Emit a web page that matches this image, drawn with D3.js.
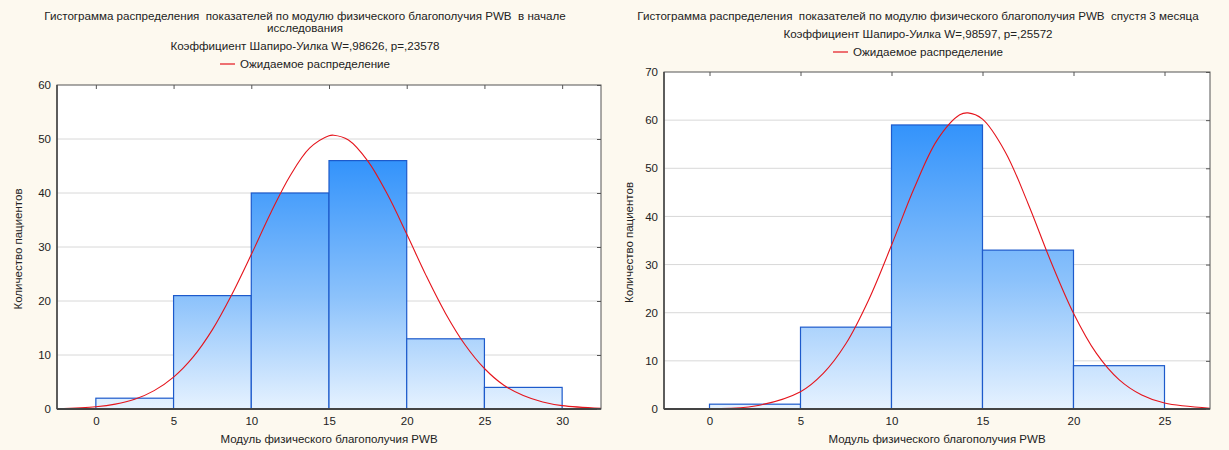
<!DOCTYPE html>
<html>
<head>
<meta charset="utf-8">
<script src="https://cdn.jsdelivr.net/npm/d3@7"></script>
<style>
  body { margin: 0; background: #fdf9ef; }
  text { font-family: "Liberation Sans", Arial, sans-serif; fill: #222; white-space: pre; }
</style>
</head>
<body>
<div id="chart-area"></div>
<script>
// --- data ---

// bins (left edges, width 5)
const binsBefore = [0, 5, 10, 15, 20, 25];
const countsBefore = [2, 21, 40, 46, 13, 4];
const binsAfter = [0, 5, 10, 15, 20];
const countsAfter = [1, 17, 59, 33, 9];

// expected distribution curve
const curveXBefore = [-2.5, 0, 1.25, 2.5, 3.75, 5, 6.25, 7.5, 8.75, 10, 11.25, 12.5, 13.75, 15, 15.3, 16.25, 17.5, 18.75, 20, 21.25, 22.5, 23.75, 25, 26.25, 27.5, 28.75, 30, 32.5];
const curveYBefore = [0.08, 0.43, 0.9, 1.8, 3.4, 5.9, 9.6, 14.7, 21.2, 28.6, 36.3, 43.2, 48.3, 50.6, 50.7, 49.8, 45.9, 39.8, 32.4, 24.7, 17.7, 11.9, 7.5, 4.4, 2.5, 1.3, 0.63, 0.12];
const curveXAfter = [-2.5, 0, 2.5, 5, 6.25, 7.5, 8.75, 10, 11.25, 12.5, 13.75, 14.2, 15, 16.25, 17.5, 18.75, 20, 21.25, 22.5, 23.75, 25, 27.5];
const curveYAfter = [0.01, 0.07, 0.62, 3.6, 7.4, 13.6, 22.7, 34.0, 45.9, 55.8, 61.1, 61.5, 60.2, 53.4, 42.7, 30.7, 19.9, 11.6, 6.1, 2.9, 1.23, 0.16];

// ticks
const xTicksBefore = [0, 5, 10, 15, 20, 25, 30];
const yTicksBefore = [0, 10, 20, 30, 40, 50, 60];
const xTicksAfter = [0, 5, 10, 15, 20, 25];
const yTicksAfter = [0, 10, 20, 30, 40, 50, 60, 70];

// texts
const titleBefore = ["Гистограмма распределения  показателей по модулю физического благополучия PWB  в начале", "исследования"];
const titleAfter = ["Гистограмма распределения  показателей по модулю физического благополучия PWB  спустя 3 месяца"];
const swBefore = "Коэффициент Шапиро-Уилка W=,98626, p=,23578";
const swAfter = "Коэффициент Шапиро-Уилка W=,98597, p=,25572";
const legendLabel = "Ожидаемое распределение";
const xTitle = "Модуль физического благополучия PWB";
const yTitle = "Количество пациентов";

const binWidth = 5;
const headFont = 11.6;

// canvas
const canvas = { width: 1229, height: 450 };
const svg = d3.select("#chart-area").append("svg").attr("width", canvas.width).attr("height", canvas.height);
svg.append("rect").attr("width", canvas.width).attr("height", canvas.height).attr("fill", "#fdf9ef");

const defs = svg.append("defs");

function drawPanel(p) {
  const x = d3.scaleLinear().domain(p.xDomain).range([p.left, p.right]);
  const y = d3.scaleLinear().domain(p.yDomain).range([p.bottom, p.top]);
  const g = svg.append("g");

  // plot background
  g.append("rect").attr("x", p.left).attr("y", p.top).attr("width", p.right - p.left).attr("height", p.bottom - p.top)
    .attr("fill", "#fff");

  // grid
  g.selectAll(".grid").data(p.yTicks.filter(d => d > 0 && d < p.yDomain[1])).enter().append("line")
    .attr("x1", p.left).attr("x2", p.right).attr("y1", d => y(d)).attr("y2", d => y(d))
    .attr("stroke", "#d8d8d8").attr("stroke-width", 1);

  // gradient for bars
  const gid = "grad-" + p.id;
  const grad = defs.append("linearGradient").attr("id", gid).attr("gradientUnits", "userSpaceOnUse")
    .attr("x1", 0).attr("x2", 0).attr("y1", y(d3.max(p.counts))).attr("y2", y(0));
  grad.append("stop").attr("offset", "0%").attr("stop-color", "#3393fb");
  grad.append("stop").attr("offset", "55%").attr("stop-color", "#8cc2fb");
  grad.append("stop").attr("offset", "100%").attr("stop-color", "#e6f2ff");

  // bars
  g.selectAll(".bar").data(p.bins).enter().append("rect").attr("class", "bar")
    .attr("x", d => x(d))
    .attr("y", (d, i) => y(p.counts[i]))
    .attr("width", d => x(d + binWidth) - x(d))
    .attr("height", (d, i) => y(0) - y(p.counts[i]))
    .attr("fill", `url(#${gid})`)
    .attr("stroke", "#1d5acb").attr("stroke-width", 1.2);

  // expected curve
  const clipId = "clip-" + p.id;
  defs.append("clipPath").attr("id", clipId).append("rect")
    .attr("x", p.left).attr("y", p.top).attr("width", p.right - p.left).attr("height", p.bottom - p.top);
  const line = d3.line().x(d => x(d[0])).y(d => y(d[1])).curve(d3.curveCatmullRom);
  g.append("path").datum(d3.zip(p.curveX, p.curveY)).attr("d", line)
    .attr("fill", "none").attr("stroke", "#e5141c").attr("stroke-width", 1.1)
    .attr("clip-path", `url(#${clipId})`);

  // frame
  g.append("rect").attr("x", p.left).attr("y", p.top).attr("width", p.right - p.left).attr("height", p.bottom - p.top)
    .attr("fill", "none").attr("stroke", "#555").attr("stroke-width", 1);
  g.append("line").attr("x1", p.left).attr("x2", p.right).attr("y1", p.bottom).attr("y2", p.bottom)
    .attr("stroke", "#444").attr("stroke-width", 2);
  g.append("line").attr("x1", p.left).attr("x2", p.left).attr("y1", p.top).attr("y2", p.bottom)
    .attr("stroke", "#444").attr("stroke-width", 1.5);

  // axes
  const xAxisCall = d3.axisBottom(x).tickValues(p.xTicks).tickSize(0).tickPadding(8);
  const xAxis = g.append("g").attr("transform", `translate(0,${p.bottom})`).call(xAxisCall);
  const yAxisCall = d3.axisLeft(y).tickValues(p.yTicks).tickSize(0).tickPadding(6);
  const yAxis = g.append("g").attr("transform", `translate(${p.left},0)`).call(yAxisCall);
  [xAxis, yAxis].forEach(a => {
    a.select(".domain").remove();
    a.selectAll("text").attr("font-size", 11.5).attr("fill", "#222")
      .attr("font-family", "'Liberation Sans', Arial, sans-serif");
  });

  // inner ticks on top and right borders
  const topAxis = g.append("g").attr("transform", `translate(0,${p.top})`)
    .call(d3.axisTop(x).tickValues(p.xTicks).tickSize(-4).tickFormat(""));
  const rightAxis = g.append("g").attr("transform", `translate(${p.right},0)`)
    .call(d3.axisRight(y).tickValues(p.yTicks).tickSize(-4).tickFormat(""));
  [topAxis, rightAxis].forEach(a => { a.select(".domain").remove(); a.selectAll("line").attr("stroke", "#555"); });

  // axis titles
  g.append("text").attr("x", (p.left + p.right) / 2).attr("y", p.bottom + 34).attr("text-anchor", "middle")
    .attr("font-size", 11.5).text(xTitle);
  g.append("text").attr("transform", `translate(${p.yTitleX},${(p.top + p.bottom) / 2 + 2}) rotate(-90)`)
    .attr("text-anchor", "middle").attr("font-size", 11.5).text(yTitle);

  // titles
  const cx = p.titleX;
  p.title.forEach((t, i) => {
    g.append("text").attr("x", cx).attr("y", p.titleY + i * 12).attr("text-anchor", "middle")
      .attr("font-size", headFont).text(t);
  });
  const swY = p.titleY + (p.title.length - 1) * 12 + 18;
  g.append("text").attr("x", cx).attr("y", swY).attr("text-anchor", "middle").attr("font-size", headFont).text(p.sw);

  // legend
  const legY = swY + 18;
  const legText = g.append("text").attr("x", cx + 10).attr("y", legY).attr("text-anchor", "middle")
    .attr("font-size", headFont).text(legendLabel);
  const w = legText.node().getComputedTextLength();
  g.append("line").attr("x1", cx + 10 - w / 2 - 20).attr("x2", cx + 10 - w / 2 - 5)
    .attr("y1", legY - 4).attr("y2", legY - 4).attr("stroke", "#e5141c").attr("stroke-width", 1.2);
}

drawPanel({
  id: "before", bins: binsBefore, counts: countsBefore, curveX: curveXBefore, curveY: curveYBefore,
  xTicks: xTicksBefore, yTicks: yTicksBefore, xDomain: [-2.5, 32.5], yDomain: [0, 60],
  left: 57, right: 601, top: 85, bottom: 409, yTitleX: 22,
  title: titleBefore, sw: swBefore, titleX: 305, titleY: 20
});

drawPanel({
  id: "after", bins: binsAfter, counts: countsAfter, curveX: curveXAfter, curveY: curveYAfter,
  xTicks: xTicksAfter, yTicks: yTicksAfter, xDomain: [-2.5, 27.5], yDomain: [0, 70],
  left: 664, right: 1210, top: 72, bottom: 409, yTitleX: 633,
  title: titleAfter, sw: swAfter, titleX: 918, titleY: 20
});
</script>
</body>
</html>
